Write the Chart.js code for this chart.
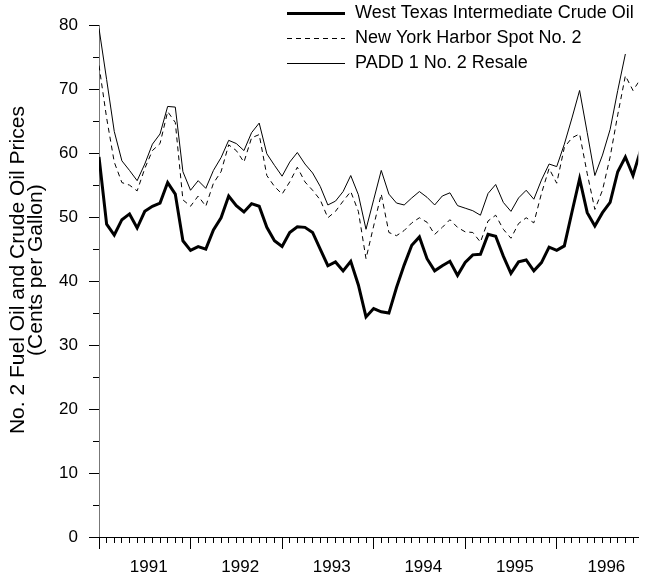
<!DOCTYPE html>
<html>
<head>
<meta charset="utf-8">
<script src="https://cdn.jsdelivr.net/npm/chart.js@4.4.1/dist/chart.umd.min.js"></script>
<style>
  html, body { margin: 0; padding: 0; background: #fff; }
  canvas { display: block; }
</style>
</head>
<body>
<canvas id="fuelChart" width="647" height="583"></canvas>
<script>
// monthly prices from Jan 1991, cents per gallon
const wti = [
  59.4, 48.9, 47.2, 49.6, 50.5, 48.3, 50.9, 51.7, 52.2, 55.4, 53.6, 46.3,
  44.8, 45.4, 45.0, 48.0, 49.9, 53.3, 51.8, 50.8, 52.1, 51.7, 48.4, 46.3,
  45.4, 47.6, 48.5, 48.4, 47.6, 45.0, 42.4, 43.0, 41.6, 43.1, 39.4, 34.4,
  35.7, 35.2, 35.0, 39.0, 42.5, 45.6, 46.9, 43.5, 41.6, 42.4, 43.1, 40.9,
  42.9, 44.1, 44.2, 47.3, 47.0, 43.9, 41.2, 43.0, 43.3, 41.6, 42.9, 45.3,
  44.8, 45.5, 50.8, 56.0, 50.7, 48.6, 50.7, 52.3, 57.1, 59.4, 56.5, 60.5
];
const nyHarbor = [
  73.7, 65.5, 58.6, 55.4, 55.0, 54.1, 57.6, 60.4, 61.5, 66.5, 64.8, 52.7,
  51.7, 53.3, 51.7, 55.3, 57.1, 61.3, 60.4, 58.6, 62.4, 62.9, 56.5, 54.8,
  53.6, 55.5, 57.8, 55.5, 54.2, 52.7, 49.9, 50.9, 52.5, 54.0, 50.9, 43.5,
  48.6, 53.6, 47.6, 47.1, 47.9, 49.1, 49.9, 49.2, 47.3, 48.4, 49.6, 48.4,
  47.7, 47.6, 46.1, 49.4, 50.3, 48.1, 46.7, 49.0, 49.9, 49.1, 53.7, 57.6,
  55.3, 60.9, 62.4, 63.0, 56.8, 51.2, 54.2, 59.4, 66.0, 72.1, 69.8, 71.6
];
const padd1 = [
  79.5, 71.5, 63.4, 58.8, 57.3, 55.7, 58.3, 61.4, 63.0, 67.3, 67.2, 57.1,
  54.2, 55.7, 54.5, 57.3, 59.3, 62.0, 61.5, 60.4, 63.2, 64.7, 59.9, 58.1,
  56.4, 58.6, 60.1, 58.3, 56.9, 54.8, 51.9, 52.5, 54.0, 56.5, 53.5, 48.1,
  52.7, 57.3, 53.6, 52.2, 51.9, 53.0, 54.0, 53.1, 51.9, 53.3, 53.8, 51.8,
  51.4, 51.0, 50.3, 53.7, 55.1, 52.3, 50.9, 53.0, 54.2, 52.8, 55.8, 58.3,
  57.9, 61.4, 65.5, 69.8, 63.2, 56.5, 59.7, 63.7, 69.8, 75.5
];
const years = ['1991', '1992', '1993', '1994', '1995', '1996'];
const seriesNames = [
  'West Texas Intermediate Crude Oil',
  'New York Harbor Spot No. 2',
  'PADD 1 No. 2 Resale'
];
const yTitle = ['No. 2 Fuel Oil and Crude Oil Prices', '(Cents per Gallon)'];

const FONT = "'Liberation Sans', Arial, sans-serif";
const toPoints = (arr) => arr.map((v, i) => ({ x: i, y: v }));

// longer year / ten-cent tick marks, the rotated axis title and the legend
const extras = {
  id: 'extras',
  afterDraw(chart) {
    const ctx = chart.ctx;
    const xs = chart.scales.x;
    const ys = chart.scales.y;
    const area = chart.chartArea;
    const align = (p) => Math.round(p - 0.5) + 0.5;

    ctx.save();
    ctx.strokeStyle = '#000';
    ctx.lineWidth = 1;
    ctx.setLineDash([]);
    ctx.beginPath();
    xs.ticks.forEach(t => {
      if (t.value % 12 === 0) {
        const px = align(xs.getPixelForValue(t.value));
        ctx.moveTo(px, area.bottom);
        ctx.lineTo(px, area.bottom + 12);
      }
    });
    ys.ticks.forEach(t => {
      if (t.value % 10 === 0) {
        const py = align(ys.getPixelForValue(t.value));
        ctx.moveTo(area.left - 10, py);
        ctx.lineTo(area.left, py);
      }
    });
    ctx.stroke();

    // y title, sitting a little above the axis middle like the original
    ctx.save();
    ctx.translate(0, (area.top + area.bottom) / 2 - 11);
    ctx.rotate(-Math.PI / 2);
    ctx.font = '21px ' + FONT;
    ctx.textAlign = 'center';
    ctx.textBaseline = 'middle';
    ctx.fillStyle = '#000';
    yTitle.forEach((line, k) => ctx.fillText(line, 0, 18 + k * 18.5));
    ctx.restore();

    const legX = 287, legW = 58, rowH = 25;
    let rowY = 13;
    ctx.font = '18px ' + FONT;
    ctx.textBaseline = 'middle';
    ctx.fillStyle = '#000';
    chart.data.datasets.forEach(ds => {
      ctx.beginPath();
      ctx.lineWidth = ds.borderWidth;
      ctx.setLineDash(ds.borderDash || []);
      const ly = ds.borderWidth % 2 ? Math.round(rowY) + 0.5 : Math.round(rowY);
      ctx.moveTo(legX, ly);
      ctx.lineTo(legX + legW, ly);
      ctx.stroke();
      ctx.fillText(ds.label, legX + legW + 10, rowY);
      rowY += rowH;
    });
    ctx.restore();
  }
};

new Chart(document.getElementById('fuelChart'), {
  type: 'line',
  data: {
    datasets: [
      {
        label: seriesNames[0],
        data: toPoints(wti),
        borderColor: '#000',
        borderWidth: 3,
        pointRadius: 0,
        tension: 0
      },
      {
        label: seriesNames[1],
        data: toPoints(nyHarbor),
        borderColor: '#000',
        borderWidth: 1,
        borderDash: [5, 4],
        pointRadius: 0,
        tension: 0
      },
      {
        label: seriesNames[2],
        data: toPoints(padd1),
        borderColor: '#000',
        borderWidth: 1,
        pointRadius: 0,
        tension: 0
      }
    ]
  },
  options: {
    responsive: false,
    animation: false,
    devicePixelRatio: 1,
    layout: { padding: { top: 15, right: 0, bottom: 0, left: 0 } },
    plugins: {
      legend: { display: false },
      tooltip: { enabled: false }
    },
    scales: {
      x: {
        type: 'linear',
        min: 0,
        max: 70.7,
        afterFit: (s) => { s.height = 46; },
        border: { color: '#000', width: 1 },
        grid: { drawOnChartArea: false, tickLength: 6, color: '#000' },
        ticks: {
          stepSize: 1,
          includeBounds: false,
          autoSkip: false,
          maxRotation: 0,
          labelOffset: 3.9,
          padding: 14,
          color: '#000',
          font: { family: FONT, size: 17 },
          callback: (v) => (v % 12 === 6 ? years[Math.floor(v / 12)] : '')
        }
      },
      y: {
        min: 0,
        max: 80,
        afterFit: (s) => { s.width = 99; },
        border: { color: '#777', width: 1 },
        grid: { drawOnChartArea: false, tickLength: 6, color: '#000' },
        ticks: {
          stepSize: 5,
          padding: 15,
          color: '#000',
          font: { family: FONT, size: 17 },
          callback: (v) => (v % 10 === 0 ? v : '')
        }
      }
    }
  },
  plugins: [extras]
});
</script>
</body>
</html>
